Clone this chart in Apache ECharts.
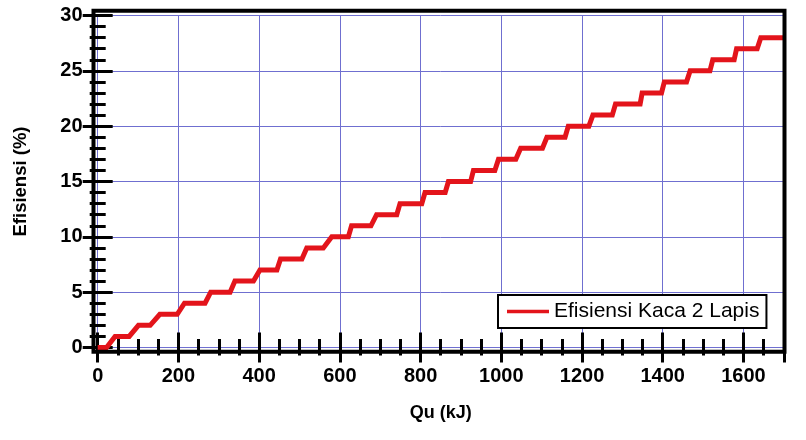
<!DOCTYPE html>
<html>
<head>
<meta charset="utf-8">
<script src="https://cdn.jsdelivr.net/npm/echarts@6/dist/echarts.min.js"></script>
<style>
  html, body { margin: 0; padding: 0; background: #ffffff; }
  #chart { width: 806px; height: 440px; }
</style>
</head>
<body>
<div id="chart"></div>
<script>
// ---- data ----
var efficiencyLevels = [0, 1, 2, 3, 4, 5, 6, 7, 8, 9, 10, 11, 12, 13, 14, 15, 16, 17, 18, 19, 20, 21, 22, 23, 24, 25, 26, 27, 28];
// Qu (kJ) where each level begins and ends
var stepStart = [0, 43, 101, 154, 215, 280, 340, 402, 453, 518, 580, 629, 691, 749, 811, 869, 931, 993, 1048, 1113, 1166, 1227, 1283, 1349, 1404, 1468, 1524, 1583, 1643];
var stepEnd = [22, 78, 130, 197, 266, 328, 386, 444, 506, 559, 621, 677, 741, 803, 861, 924, 984, 1036, 1102, 1158, 1217, 1275, 1344, 1397, 1459, 1517, 1577, 1634, 1700];
var seriesName = 'Efisiensi Kaca 2 Lapis';
var xTitle = 'Qu (kJ)';
var yTitle = 'Efisiensi (%)';
var xRange = [0, 1700];
var yRange = [0, 30];

var lineData = [];
for (var i = 0; i < efficiencyLevels.length; i++) {
  lineData.push([stepStart[i], efficiencyLevels[i]]);
  lineData.push([stepEnd[i], efficiencyLevels[i]]);
}

var FONT = '"Liberation Sans", Arial, sans-serif';
var gridColor = '#6f6fd0';

function tickAxis(opts) {
  return Object.assign({
    type: 'value',
    axisLine: { show: false },
    axisTick: { show: true, inside: true, length: 15, lineStyle: { color: '#000', width: 3 } },
    minorTick: { show: true, length: 8, lineStyle: { color: '#000', width: 3 } },
    splitLine: { show: false },
    axisLabel: { show: false }
  }, opts);
}

var chart = echarts.init(document.getElementById('chart'), null, { renderer: 'canvas' });

var option = {
  backgroundColor: '#ffffff',
  animation: false,
  grid: { left: 97.7, right: 22.2, top: 15.5, bottom: 92.5, containLabel: false },
  legend: {
    show: true,
    left: 498,
    top: 295,
    orient: 'horizontal',
    backgroundColor: '#ffffff',
    borderColor: '#000000',
    borderWidth: 2,
    borderRadius: 0,
    padding: [6, 7, 6, 9],
    itemWidth: 42,
    itemHeight: 14,
    itemGap: 6,
    icon: 'path://M0,6 L42,6 L42,9.5 L0,9.5 Z',
    textStyle: { fontFamily: FONT, fontSize: 21, color: '#000' },
    data: [{ name: seriesName, itemStyle: { color: '#e3141b' } }]
  },
  xAxis: [
    tickAxis({
      position: 'bottom',
      min: xRange[0], max: xRange[1], interval: 200,
      offset: 4.2,
      minorTick: { show: true, splitNumber: 4, length: 8.5, lineStyle: { color: '#000', width: 3 } },
      splitLine: { show: true, lineStyle: { color: gridColor, width: 1 } },
      axisLabel: { show: true, margin: 15, fontFamily: FONT, fontSize: 20, fontWeight: 'bold', color: '#000',
        formatter: function (v) { return (v % 200 === 0 && v <= 1600) ? String(v) : ''; } },
      name: xTitle,
      nameLocation: 'middle',
      nameGap: 52,
      nameTextStyle: { fontFamily: FONT, fontSize: 18, fontWeight: 'bold', color: '#000', verticalAlign: 'top' }
    }),
    tickAxis({
      position: 'top',
      min: xRange[0], max: xRange[1], interval: 200,
      offset: 4.8,
      minorTick: { show: true, splitNumber: 4, length: 8, lineStyle: { color: '#000', width: 3 } }
    })
  ],
  yAxis: [
    tickAxis({
      position: 'left',
      min: yRange[0], max: yRange[1], interval: 5,
      offset: 4.2,
      minorTick: { show: true, splitNumber: 5, length: 8, lineStyle: { color: '#000', width: 3 } },
      splitLine: { show: true, lineStyle: { color: gridColor, width: 1 } },
      axisLabel: { show: true, margin: 11, fontFamily: FONT, fontSize: 20, fontWeight: 'bold', color: '#000' },
      name: yTitle,
      nameLocation: 'middle',
      nameGap: 63,
      nameRotate: 90,
      nameTextStyle: { fontFamily: FONT, fontSize: 18.5, fontWeight: 'bold', color: '#000' }
    }),
    tickAxis({
      position: 'right',
      min: yRange[0], max: yRange[1], interval: 5,
      offset: 0.7,
      minorTick: { show: true, splitNumber: 5, length: 8, lineStyle: { color: '#000', width: 3 } }
    })
  ],
  series: [{
    name: seriesName,
    type: 'line',
    xAxisIndex: 0,
    yAxisIndex: 0,
    data: lineData,
    symbol: 'none',
    showSymbol: false,
    clip: true,
    z: 3,
    lineStyle: { color: '#e3141b', width: 5, join: 'miter' },
    itemStyle: { color: '#e3141b' }
  }],
  graphic: [{
    type: 'rect',
    z: 100,
    silent: true,
    shape: { x: 93.5, y: 10.7, width: 691, height: 341 },
    style: { fill: 'none', stroke: '#000000', lineWidth: 4 }
  }]
};

chart.setOption(option);
</script>
</body>
</html>
